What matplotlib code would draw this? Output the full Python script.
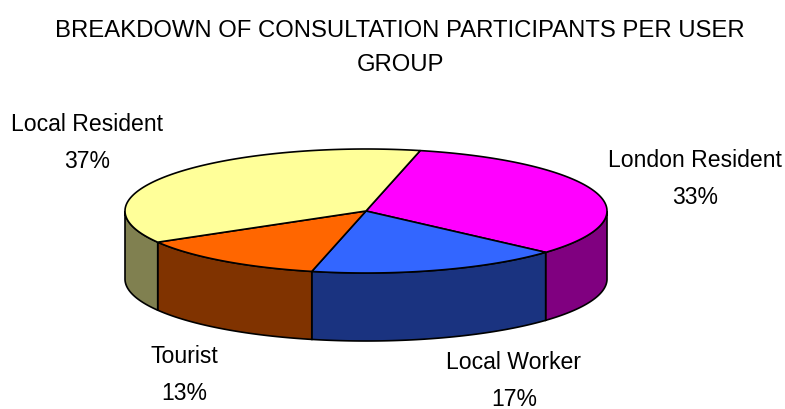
import numpy as np
import matplotlib
matplotlib.use("Agg")
import matplotlib.pyplot as plt

categories = ["London Resident", "Local Worker", "Tourist", "Local Resident"]
values = [33, 17, 13, 37]
top_colors = ["#FF00FF", "#3366FF", "#FF6600", "#FFFF99"]
side_colors = ["#800080", "#1A3380", "#803300", "#808050"]
label_pos = [(695, 179), (514, 381), (184, 375), (87, 143)]
title = "BREAKDOWN OF CONSULTATION PARTICIPANTS PER USER\nGROUP"

plt.rcParams["font.family"] = ["Liberation Sans", "DejaVu Sans"]
fig = plt.figure(figsize=(7.85, 4.10), dpi=100)
ax = fig.add_axes([0, 0, 1, 1])
ax.set_xlim(0, 785)
ax.set_ylim(410, 0)
ax.axis("off")

cx, cy, rx, ry, depth = 366, 212, 241, 62, 68
start = 77.0

def pt(a, d=0):
    r = np.radians(a)
    return cx + rx * np.cos(r), cy - ry * np.sin(r) + d

edges = start - np.cumsum([0] + values) / sum(values) * 360
for i in range(len(values)):
    a0, a1 = edges[i], edges[i + 1]
    lo, hi = max(a1, -180), min(a0, 0)
    if hi > lo:
        t = np.linspace(hi, lo, 120)
        x, y = pt(t)
        x2, y2 = pt(t[::-1], depth)
        ax.fill(np.r_[x, x2], np.r_[y, y2], fc=side_colors[i], ec="black", lw=1.2, zorder=2)
for i in range(len(values)):
    t = np.linspace(edges[i], edges[i + 1], 200)
    x, y = pt(t)
    ax.fill(np.r_[cx, x], np.r_[cy, y], fc=top_colors[i], ec="black", lw=1.2, zorder=3)

for name, v, (lx, ly) in zip(categories, values, label_pos):
    ax.text(lx, ly, f"{name}\n{v}%", ha="center", va="center", fontsize=16.6,
            linespacing=1.83, color="black")
ax.text(400, 48, title, ha="center", va="center", fontsize=17.2, linespacing=1.72, color="black")
fig.savefig("out.png", dpi=100)
